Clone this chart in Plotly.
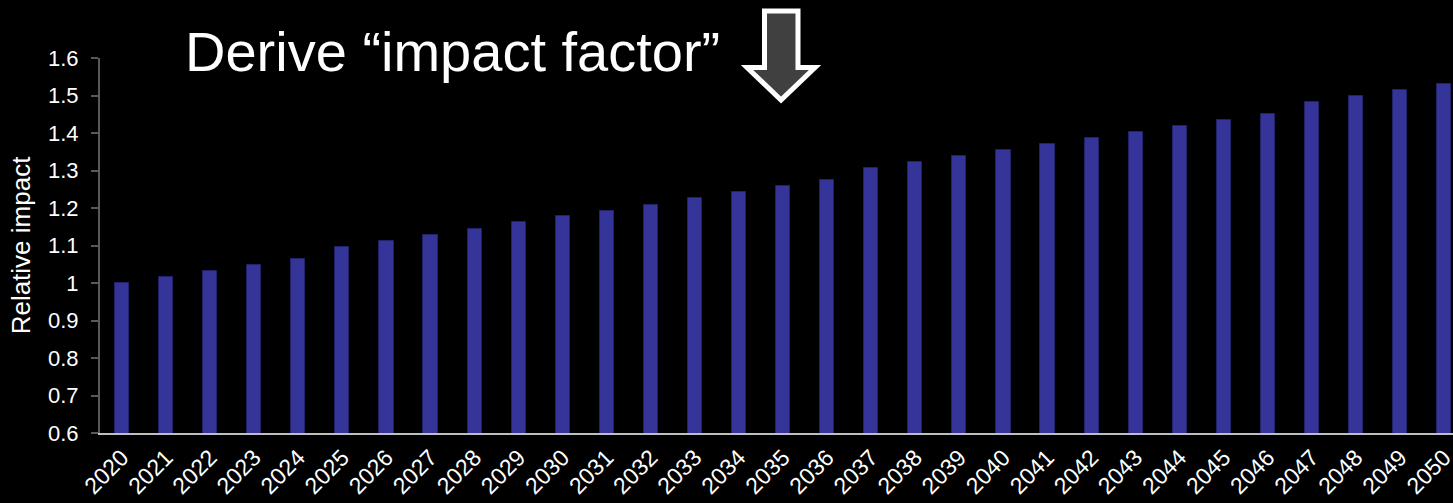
import plotly.graph_objects as go

# Projected relative impact by year (2020 = 1.0)
years = [str(y) for y in range(2020, 2051)]
impact = [
    1.000, 1.017, 1.033, 1.049, 1.065, 1.097, 1.113, 1.129, 1.145, 1.162,
    1.178, 1.193, 1.209, 1.226, 1.242, 1.258, 1.274, 1.307, 1.322, 1.339,
    1.355, 1.371, 1.387, 1.404, 1.420, 1.436, 1.452, 1.484, 1.500, 1.516,
    1.532,
]
y_ticks = [0.6, 0.7, 0.8, 0.9, 1.0, 1.1, 1.2, 1.3, 1.4, 1.5, 1.6]
y_tick_text = ["0.6", "0.7", "0.8", "0.9", "1", "1.1", "1.2", "1.3", "1.4", "1.5", "1.6"]

W, H = 1453, 503
M_L, M_R, M_T, M_B = 100, 0, 58, 70
PW, PH = W - M_L - M_R, H - M_T - M_B


def px(x):
    return (x - M_L) / PW


def py(y):
    return (H - M_B - y) / PH


FONT = "Arial, Liberation Sans, sans-serif"

fig = go.Figure(
    go.Bar(
        x=years,
        y=impact,
        width=0.32,
        marker=dict(color="#353599", line=dict(color="#22226a", width=1)),
    )
)

# Down arrow next to the heading
arrow_pts = [(764.5, 11), (798, 11), (798, 67.5), (815, 67.5), (781, 100),
             (747, 67.5), (764.5, 67.5)]
arrow_path = "M " + " L ".join(f"{px(x):.5f} {py(y):.5f}" for x, y in arrow_pts) + " Z"

fig.update_layout(
    width=W,
    height=H,
    margin=dict(l=M_L, r=M_R, t=M_T, b=M_B, autoexpand=False),
    paper_bgcolor="black",
    plot_bgcolor="black",
    showlegend=False,
    bargap=0,
    font=dict(family=FONT, color="white"),
    xaxis=dict(
        type="category",
        range=[-0.5, 30.2],
        tickangle=-45,
        tickfont=dict(size=23, color="white"),
        showgrid=False,
        zeroline=False,
        showline=True,
        linecolor="#bfbfbf",
        linewidth=2,
        ticks="",
    ),
    yaxis=dict(
        range=[0.6, 1.6],
        tickvals=y_ticks,
        ticktext=y_tick_text,
        tickfont=dict(size=22, color="white"),
        showgrid=False,
        zeroline=False,
        showline=True,
        linecolor="#595959",
        linewidth=2,
        ticks="outside",
        ticklen=7,
        tickwidth=2,
        tickcolor="#595959",
        ticklabelstandoff=8,
        title=dict(text="Relative impact", font=dict(size=26, color="white"), standoff=10),
    ),
    shapes=[
        dict(
            type="path",
            xref="paper",
            yref="paper",
            path=arrow_path,
            fillcolor="#404040",
            line=dict(color="white", width=5),
            layer="above",
        )
    ],
    annotations=[
        dict(
            text="Derive “impact factor”",
            xref="paper",
            yref="paper",
            x=px(183),
            y=py(51),
            xanchor="left",
            yanchor="middle",
            showarrow=False,
            font=dict(size=56, color="white", family=FONT),
        )
    ],
)

fig.write_html("out.html")
